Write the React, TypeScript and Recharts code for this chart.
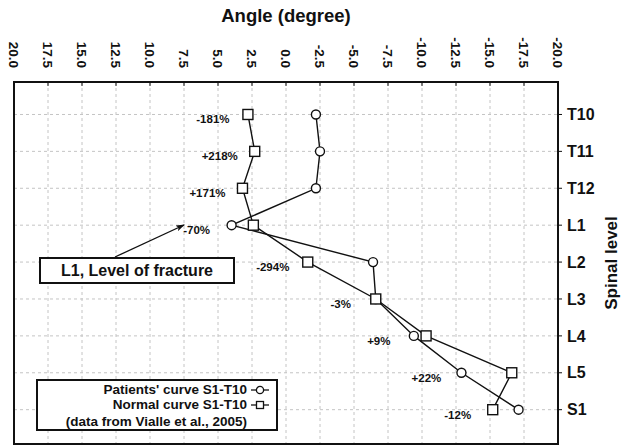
import { ScatterChart, Scatter, XAxis, YAxis, CartesianGrid, Label, ReferenceArea } from 'recharts';

const levels = ['T10', 'T11', 'T12', 'L1', 'L2', 'L3', 'L4', 'L5', 'S1'];
const patientAngles = [-2.2, -2.5, -2.2, 4.0, -6.4, -6.6, -9.4, -12.9, -17.1];
const normalAngles = [2.8, 2.3, 3.2, 2.4, -1.6, -6.6, -10.3, -16.6, -15.2];
const diffLabels = ['-181%', '+218%', '+171%', '-70%', '-294%', '-3%', '+9%', '+22%', '-12%'];
const angleTicks = [20, 17.5, 15, 12.5, 10, 7.5, 5, 2.5, 0, -2.5, -5, -7.5, -10, -12.5, -15, -17.5, -20];
const levelTicks = levels.map((_, i) => i);

const patientData = levels.map((_, i) => ({ x: patientAngles[i], y: i }));
const normalData = levels.map((_, i) => ({ x: normalAngles[i], y: i }));
const labelData = levels.map((_, i) => ({
  x: Math.max(patientAngles[i], normalAngles[i]),
  y: i,
  label: diffLabels[i],
}));

const FONT = '"Liberation Sans", Arial, sans-serif';
const Y_DOMAIN: [number, number] = [-0.88, 8.93];

const AngleTick = ({ x, payload }: any) => (
  <text
    transform={`translate(${x},68) rotate(90)`}
    textAnchor="end"
    dy="0.35em"
    fontFamily={FONT}
    fontWeight="bold"
    fontSize={13.5}
    fill="#111"
  >
    {Number(payload.value).toFixed(1)}
  </text>
);

const NoTick = () => <g />;

const CircleMark = ({ cx, cy }: any) => (
  <circle cx={cx} cy={cy} r={4.5} fill="#fff" stroke="#111" strokeWidth={1.4} />
);

const SquareMark = ({ cx, cy }: any) => (
  <rect x={cx - 5} y={cy - 5} width={10} height={10} fill="#fff" stroke="#111" strokeWidth={1.4} />
);

const PercentMark = ({ cx, cy, payload }: any) => (
  <text
    x={cx - 35}
    y={cy + 5}
    textAnchor="middle"
    dominantBaseline="central"
    fontFamily={FONT}
    fontWeight="bold"
    fontSize={11.5}
    fill="#111"
  >
    {payload.label}
  </text>
);

const LegendRow = ({ text, mark, gap = 0 }: { text: string; mark?: 'circle' | 'square'; gap?: number }) => (
  <div
    style={{
      display: 'flex',
      justifyContent: 'flex-end',
      alignItems: 'center',
      height: 15,
      lineHeight: '15px',
      marginTop: gap,
    }}
  >
    <span>{text}</span>
    <svg width={20} height={12} style={{ marginLeft: 3 }}>
      {mark && <line x1={1} y1={6} x2={19} y2={6} stroke="#111" strokeWidth={1.3} />}
      {mark === 'circle' && <circle cx={10} cy={6} r={3.6} fill="#fff" stroke="#111" strokeWidth={1.3} />}
      {mark === 'square' && <rect x={6.5} y={2.5} width={7} height={7} fill="#fff" stroke="#111" strokeWidth={1.3} />}
    </svg>
  </div>
);

export default function App() {
  return (
    <div style={{ position: 'absolute', left: 0, top: 0, width: 627, height: 447, background: '#fff' }}>
      <ScatterChart width={627} height={447} margin={{ top: 32, right: 9, bottom: 3, left: 14 }}>
        <CartesianGrid xAxisId="top" yAxisId="right" stroke="#c4c4c4" strokeDasharray="3 3" />
        <XAxis
          xAxisId="top"
          type="number"
          dataKey="x"
          orientation="top"
          domain={[-20, 20]}
          reversed
          ticks={angleTicks}
          tick={AngleTick}
          tickSize={-4}
          height={50}
          axisLine={{ stroke: '#111', strokeWidth: 2 }}
          tickLine={{ stroke: '#111' }}
        >
          <Label
            value="Angle (degree)"
            position="top"
            offset={10}
            style={{ fontFamily: FONT, fontWeight: 'bold', fontSize: 18.5, fill: '#111' }}
          />
        </XAxis>
        <XAxis
          xAxisId="bottom"
          type="number"
          dataKey="x"
          orientation="bottom"
          domain={[-20, 20]}
          reversed
          ticks={angleTicks}
          tick={NoTick}
          tickSize={-4}
          height={0}
          axisLine={{ stroke: '#111', strokeWidth: 2 }}
          tickLine={{ stroke: '#111' }}
        />
        <YAxis
          yAxisId="left"
          type="number"
          dataKey="y"
          orientation="left"
          domain={Y_DOMAIN}
          reversed
          ticks={levelTicks}
          tick={NoTick}
          tickSize={-4}
          width={0}
          axisLine={{ stroke: '#111', strokeWidth: 2 }}
          tickLine={{ stroke: '#111' }}
        />
        <YAxis
          yAxisId="right"
          type="number"
          dataKey="y"
          orientation="right"
          domain={Y_DOMAIN}
          reversed
          ticks={levelTicks}
          tickFormatter={(v: number) => levels[v]}
          tickSize={4}
          tickMargin={5}
          width={60}
          axisLine={{ stroke: '#111', strokeWidth: 2 }}
          tickLine={{ stroke: '#111' }}
          tick={{ fontFamily: FONT, fontWeight: 'bold', fontSize: 16, fill: '#111' }}
        >
          <Label
            content={({ viewBox }: any) => (
              <text
                transform={`translate(${viewBox.x + 53},${viewBox.y + viewBox.height / 2}) rotate(-90)`}
                textAnchor="middle"
                dominantBaseline="central"
                fontFamily={FONT}
                fontWeight="bold"
                fontSize={17}
                fill="#111"
              >
                Spinal level
              </text>
            )}
          />
        </YAxis>
        <ReferenceArea
          xAxisId="top"
          yAxisId="right"
          x1={-20}
          x2={20}
          y1={Y_DOMAIN[0]}
          y2={Y_DOMAIN[1]}
          fill="none"
          fillOpacity={0}
          stroke="#111"
          strokeWidth={2}
        />
        <Scatter
          xAxisId="top"
          yAxisId="right"
          data={patientData}
          line={{ stroke: '#111', strokeWidth: 1.4 }}
          shape={CircleMark}
          isAnimationActive={false}
        />
        <Scatter
          xAxisId="top"
          yAxisId="right"
          data={normalData}
          line={{ stroke: '#111', strokeWidth: 1.4 }}
          shape={SquareMark}
          isAnimationActive={false}
        />
        <Scatter
          xAxisId="top"
          yAxisId="right"
          data={labelData}
          shape={PercentMark}
          isAnimationActive={false}
        />
      </ScatterChart>

      {/* fracture annotation */}
      <svg width={627} height={447} style={{ position: 'absolute', left: 0, top: 0, pointerEvents: 'none' }}>
        <defs>
          <marker id="arr" markerWidth="9" markerHeight="6" refX="8" refY="3" orient="auto" markerUnits="userSpaceOnUse">
            <path d="M0,0 L9,3 L0,6 L2,3 Z" fill="#111" />
          </marker>
        </defs>
        <line x1={115} y1={257} x2={184} y2={225} stroke="#111" strokeWidth={1.3} markerEnd="url(#arr)" />
      </svg>
      <div
        style={{
          position: 'absolute',
          left: 39,
          top: 257,
          width: 196,
          height: 27,
          boxSizing: 'border-box',
          border: '2px solid #111',
          background: '#fff',
          fontFamily: FONT,
          fontWeight: 'bold',
          fontSize: 16,
          color: '#111',
          display: 'flex',
          alignItems: 'center',
          justifyContent: 'center',
        }}
      >
        L1, Level of fracture
      </div>

      {/* legend */}
      <div
        style={{
          position: 'absolute',
          left: 36,
          top: 379,
          width: 242,
          height: 52,
          boxSizing: 'border-box',
          border: '2px solid #111',
          background: '#fff',
          fontFamily: FONT,
          fontWeight: 'bold',
          fontSize: 13.5,
          color: '#111',
          padding: '1px 6px 0 0',
        }}
      >
        <LegendRow text="Patients' curve S1-T10" mark="circle" />
        <LegendRow text="Normal curve S1-T10" mark="square" />
        <LegendRow text="(data from Vialle et al., 2005)" gap={2} />
      </div>
    </div>
  );
}
